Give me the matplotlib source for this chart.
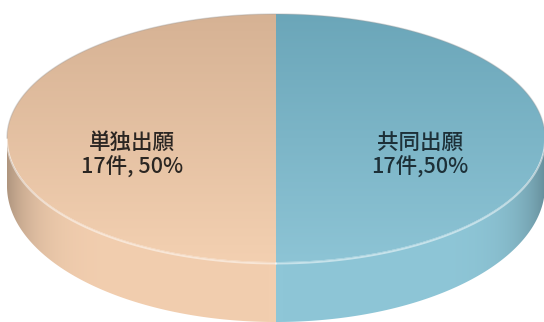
import numpy as np
import matplotlib.pyplot as plt
from matplotlib.patches import Polygon
from matplotlib.colors import to_rgb

plt.rcParams['font.family'] = ['Noto Sans CJK JP', 'DejaVu Sans']

# applications by type
labels = ['単独出願', '共同出願']
counts = [17, 17]
seps = [', ', ',']

# face colours (back, front) and side colour per slice
top_cols = [('#D6B294', '#F3D0B1'), ('#6BA6B9', '#8DC4D5')]
side_cols = ['#F2CEAF', '#8EC6D7']
text_cols = ['#2b2622', '#1d3038']

W, H = 544, 322
cx, cy, a, b = 276, 138, 269, 124
depth, b_low = 48, 136

fig = plt.figure(figsize=(W / 100, H / 100), dpi=100)
ax = fig.add_axes([0, 0, 1, 1])
ax.set_xlim(0, W)
ax.set_ylim(H, 0)
ax.axis('off')

xx, yy = np.meshgrid(np.arange(W) + 0.5, np.arange(H) + 0.5)


def arc(t0, t1, dy=0, bb=b, n=200):
    t = np.radians(np.linspace(t0, t1, n))
    return np.column_stack([cx + a * np.cos(t), cy + dy - bb * np.sin(t)])


def fill(poly, img, z):
    patch = Polygon(poly, closed=True, facecolor='none', edgecolor='none')
    ax.add_patch(patch)
    im = ax.imshow(img, extent=(0, W, H, 0), origin='upper', zorder=z,
                   interpolation='bilinear')
    im.set_clip_path(patch)


total = sum(counts)
fr = np.array(counts) / total
edges = 90 + 360 * np.concatenate([[0], np.cumsum(fr)])

for i in range(len(counts)):
    t0, t1 = edges[i], edges[i + 1]

    # side wall: visible part of the slice between 180 and 360 deg
    s0, s1 = max(t0, 180), min(t1, 360)
    if s1 > s0:
        side = np.vstack([arc(s0, s1), arc(s1, s0, depth, b_low)])
        c = np.array(to_rgb(side_cols[i]))
        u = np.abs(xx - cx) / a
        shade = 1 - 0.28 * np.clip(u, 0, 1) ** 10
        img = c[None, None, :] * shade[..., None]
        fill(side, np.clip(img, 0, 1), 1)
        hl = arc(s0, s1)
        ax.plot(hl[:, 0], hl[:, 1] + 1.5, color='white', alpha=0.5, lw=1.4,
                zorder=3)

    # top face
    top = np.vstack([[cx, cy], arc(t0, t1)])
    cb = np.array(to_rgb(top_cols[i][0]))
    cf = np.array(to_rgb(top_cols[i][1]))
    f = np.clip((yy - (cy - b)) / (2 * b), 0, 1)[..., None]
    img = cb * (1 - f) + cf * f
    fill(top, img, 2)

    # label in the middle of the slice
    tm = np.radians((t0 + t1) / 2)
    lx = cx + 0.535 * a * np.cos(tm)
    ly = cy - 0.535 * b * np.sin(tm) + 17
    pct = round(fr[i] * 100)
    ax.text(lx, ly, f'{labels[i]}\n{counts[i]}件{seps[i]}{pct}%',
            ha='center', va='center', fontsize=15.5, color=text_cols[i],
            fontweight='medium', linespacing=1.15, zorder=5)

# faint rim on the back edge
rim = arc(0, 180)
ax.plot(rim[:, 0], rim[:, 1], color='#9a9a9a', alpha=0.35, lw=1, zorder=3)

fig.savefig('out.png', dpi=100)
